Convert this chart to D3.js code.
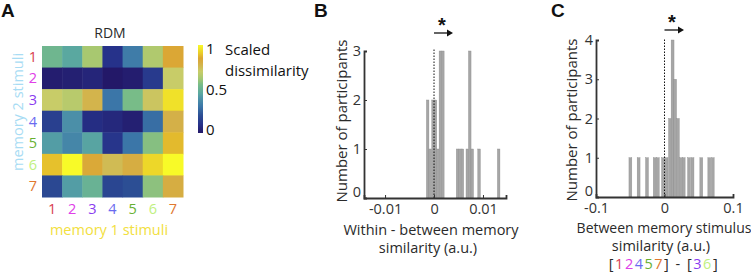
<!DOCTYPE html>
<html>
<head>
<meta charset="utf-8">
<script src="https://cdn.jsdelivr.net/npm/d3@7"></script>
<style>
  body { margin: 0; background: #fff; }
  text { font-family: "Open Sans", sans-serif; }
</style>
</head>
<body>
<svg id="fig" width="751" height="274"></svg>
<script>
// ---- data ----
var stimuli = ["1", "2", "3", "4", "5", "6", "7"];
var stimColors = ["#d8404f", "#e040e8", "#8a3cf0", "#6a6af0", "#66b030", "#c0f080", "#e07830"];
var rdm = [
  [0.52, 0.45, 0.62, 0.10, 0.32, 0.64, 0.84],
  [0.02, 0.03, 0.05, 0.00, 0.02, 0.13, 0.70],
  [0.70, 0.66, 0.77, 0.30, 0.55, 0.72, 0.95],
  [0.15, 0.38, 0.08, 0.06, 0.03, 0.28, 0.78],
  [0.42, 0.35, 0.44, 0.11, 0.30, 0.57, 0.88],
  [0.89, 1.00, 0.83, 0.75, 0.80, 0.93, 1.00],
  [0.18, 0.42, 0.50, 0.17, 0.20, 0.58, 0.80]
];
var cbTicks = [0, 0.5, 1];

// panel B: bar centre and count
var bCenters = [-0.0013, -0.0008, -0.0002, 0.0003, 0.0008, 0.0013, 0.0018,
                0.0048, 0.0053, 0.0058, 0.0068, 0.0073, 0.0078, 0.0092, 0.0132];
var bCounts  = [2, 1, 2, 2, 1, 3, 3, 1, 1, 1, 1, 3, 1, 1, 1];
var bXTicks = [-0.01, 0, 0.01];
var bYTicks = [0, 1, 2, 3];

// panel C
var cCenters = [-0.0498, -0.0378, -0.0256, -0.0143, -0.0098, -0.0022, 0.003,
                0.008, 0.0118, 0.0155, 0.0195, 0.0238, 0.028, 0.0358, 0.0409, 0.0537, 0.0654, 0.0704];
var cCounts  = [1, 1, 1, 1, 1, 1, 1, 2, 4, 3, 2, 1, 1, 1, 1, 1, 1, 1];
var cXTicks = [-0.1, 0, 0.1];
var cYTicks = [0, 1, 2, 3, 4];

// muted parula-like map
var cmapStops = [0, 0.1, 0.2, 0.3, 0.4, 0.45, 0.55, 0.62, 0.7, 0.78, 0.85, 0.9, 1];
var cmapCols = ["#231868", "#26328a", "#2c4e94", "#3b76a8", "#4f95a8", "#5aa8a0", "#78bc88",
                "#a8c870", "#c8cc68", "#d4b048", "#dca632", "#e8c82a", "#f8fa28"];
var color = d3.scaleLinear().domain(cmapStops).range(cmapCols);

var svg = d3.select("#fig");
var txt = "#2a2a2a";

function panelLetter(x, t) {
  svg.append("text").attr("x", x).attr("y", 17).text(t)
    .style("font-family", "Liberation Sans, Arial, sans-serif")
    .style("font-weight", "bold").style("font-size", "19px").attr("fill", "#111");
}

// ---------- A ----------
panelLetter(1, "A");
var xA = d3.scaleBand().domain(stimuli).range([42, 183]);
var yA = d3.scaleBand().domain(stimuli).range([46, 197]);
var gA = svg.append("g");
rdm.forEach(function (row, i) {
  gA.selectAll(null).data(row).enter().append("rect")
    .attr("x", function (d, j) { return xA(stimuli[j]); })
    .attr("y", yA(stimuli[i]))
    .attr("width", xA.bandwidth() + 0.5)
    .attr("height", yA.bandwidth() + 0.5)
    .attr("fill", function (d) { return color(d); });
});
svg.append("text").attr("x", 110).attr("y", 38).attr("text-anchor", "middle")
  .style("font-size", "14px").attr("fill", txt).text("RDM");
svg.selectAll(".rowlab").data(stimuli).enter().append("text")
  .attr("x", 37).attr("y", function (d) { return yA(d) + yA.bandwidth() / 2 + 5; })
  .attr("text-anchor", "end").style("font-size", "14.5px")
  .attr("fill", function (d, i) { return stimColors[i]; }).text(function (d) { return d; });
svg.selectAll(".collab").data(stimuli).enter().append("text")
  .attr("x", function (d) { return xA(d) + xA.bandwidth() / 2; }).attr("y", 214)
  .attr("text-anchor", "middle").style("font-size", "14.5px")
  .attr("fill", function (d, i) { return stimColors[i]; }).text(function (d) { return d; });
svg.append("text").attr("x", 109).attr("y", 235).attr("text-anchor", "middle")
  .style("font-size", "14.5px").attr("fill", "#f2e040").text("memory 1 stimuli");
svg.append("text").attr("transform", "translate(23,112)rotate(-90)").attr("text-anchor", "middle")
  .style("font-size", "14.5px").attr("fill", "#a8dcf4").text("memory 2 stimuli");

// colorbar
var cbY = d3.scaleLinear().domain([0, 1]).range([130, 49]);
var defs = svg.append("defs");
var grad = defs.append("linearGradient").attr("id", "cb")
  .attr("x1", 0).attr("y1", 1).attr("x2", 0).attr("y2", 0);
d3.range(0, 1.0001, 0.05).forEach(function (t) {
  grad.append("stop").attr("offset", t).attr("stop-color", color(t));
});
svg.append("rect").attr("x", 198).attr("y", 45).attr("width", 5).attr("height", 88)
  .attr("fill", "url(#cb)");
svg.selectAll(".cbt").data(cbTicks).enter().append("text")
  .attr("x", 206).attr("y", function (d) { return cbY(d) + 5; })
  .style("font-size", "15px").attr("fill", "#111").text(function (d) { return d; });
svg.append("text").attr("x", 225).attr("y", 55).style("font-size", "15px").attr("fill", "#111").text("Scaled");
svg.append("text").attr("x", 225).attr("y", 76).style("font-size", "15px").attr("fill", "#111").text("dissimilarity");

// ---------- histogram helper ----------
function histPanel(o) {
  var x = d3.scaleLinear().domain(o.xDomain).range(o.xRange);
  var y = d3.scaleLinear().domain(o.yDomain).range(o.yRange);
  var g = svg.append("g");
  g.selectAll("rect").data(o.centers).enter().append("rect")
    .attr("x", function (d) { return x(d - o.bw / 2); })
    .attr("width", function (d) { return x(d + o.bw / 2) - x(d - o.bw / 2); })
    .attr("y", function (d, i) { return y(o.counts[i]); })
    .attr("height", function (d, i) { return y(0) - y(o.counts[i]); })
    .attr("fill", "#a6a6a6").attr("stroke", "#8e8e8e").attr("stroke-width", 0.4);

  // zero line
  g.append("line").attr("x1", x(0)).attr("x2", x(0))
    .attr("y1", y(0)).attr("y2", o.zeroTop)
    .attr("stroke", "#111").attr("stroke-width", 1).attr("stroke-dasharray", "1.5,1.5");

  var xAxis = g.append("g").attr("transform", "translate(0," + y(0) + ")")
    .call(d3.axisBottom(x).tickValues(o.xTicks).tickSize(-3).tickPadding(6)
      .tickFormat(function (d) { return d === 0 ? "0" : d; }));
  var yAxis = g.append("g").attr("transform", "translate(" + o.xRange[0] + ",0)")
    .call(d3.axisLeft(y).tickValues(o.yTicks).tickSize(-3).tickPadding(3).tickFormat(d3.format("d")));
  [xAxis, yAxis].forEach(function (a) {
    a.select(".domain").attr("stroke", "#333").attr("stroke-width", 1.8);
    a.selectAll(".tick line").attr("stroke", "#333");
    a.selectAll(".tick text").style("font-family", "Open Sans, sans-serif")
      .style("font-size", "14.5px").attr("fill", "#333");
  });
  // lift the lowest y label a little, like the original
  yAxis.selectAll(".tick text").filter(function (d) { return d === 0; }).attr("dy", "-0.12em");

  // significance marker
  svg.append("text").attr("x", o.starX).attr("y", o.starY).attr("text-anchor", "middle")
    .style("font-family", "Liberation Sans, Arial, sans-serif").style("font-size", "20px")
    .style("font-weight", "bold").attr("fill", "#111").text("*");
  svg.append("line").attr("x1", x(0)).attr("x2", o.arrowEnd - 4)
    .attr("y1", o.arrowY).attr("y2", o.arrowY).attr("stroke", "#111").attr("stroke-width", 1.3);
  svg.append("path")
    .attr("d", "M" + (o.arrowEnd - 6) + "," + (o.arrowY - 3.5) + "L" + o.arrowEnd + "," + o.arrowY +
      "L" + (o.arrowEnd - 6) + "," + (o.arrowY + 3.5) + "Z")
    .attr("fill", "#111");

  svg.append("text").attr("transform", "translate(" + o.ylabX + "," + o.ylabY + ")rotate(-90)")
    .attr("text-anchor", "middle").style("font-size", "15px").attr("fill", txt)
    .text("Number of participants");
  return x;
}

// ---------- B ----------
panelLetter(314, "B");
histPanel({
  xDomain: [-0.0143, 0.0147], xRange: [364, 506],
  yDomain: [0, 3], yRange: [198, 51],
  centers: bCenters, counts: bCounts, bw: 0.00052,
  xTicks: bXTicks, yTicks: bYTicks, zeroTop: 48,
  starX: 442, starY: 32, arrowY: 33, arrowEnd: 453, ylabX: 347, ylabY: 121
});
svg.append("text").attr("x", 431).attr("y", 235).attr("text-anchor", "middle")
  .style("font-size", "14.5px").attr("fill", txt).text("Within - between memory");
svg.append("text").attr("x", 428).attr("y", 253).attr("text-anchor", "middle")
  .style("font-size", "14.5px").attr("fill", txt).text("similarity (a.u.)");

// ---------- C ----------
panelLetter(551, "C");
histPanel({
  xDomain: [-0.1, 0.1], xRange: [596, 733],
  yDomain: [0, 4], yRange: [197, 40],
  centers: cCenters, counts: cCounts, bw: 0.0042,
  xTicks: cXTicks, yTicks: cYTicks, zeroTop: 38,
  starX: 672, starY: 29, arrowY: 30, arrowEnd: 684, ylabX: 577, ylabY: 120
});
svg.append("text").attr("x", 664).attr("y", 233).attr("text-anchor", "middle")
  .style("font-size", "14px").attr("fill", txt).text("Between memory stimulus");
svg.append("text").attr("x", 661).attr("y", 251).attr("text-anchor", "middle")
  .style("font-size", "14.5px").attr("fill", txt).text("similarity (a.u.)");

// colored group label
var grp = svg.append("text").attr("x", 664).attr("y", 269).attr("text-anchor", "middle")
  .style("font-size", "14.5px").style("letter-spacing", "1.5px").attr("fill", txt);
grp.append("tspan").text("[");
[0, 1, 3, 4, 6].forEach(function (i) {
  grp.append("tspan").attr("fill", stimColors[i]).text(stimuli[i]);
});
grp.append("tspan").text("] - [");
[2, 5].forEach(function (i) {
  grp.append("tspan").attr("fill", stimColors[i]).text(stimuli[i]);
});
grp.append("tspan").text("]");
</script>
</body>
</html>
